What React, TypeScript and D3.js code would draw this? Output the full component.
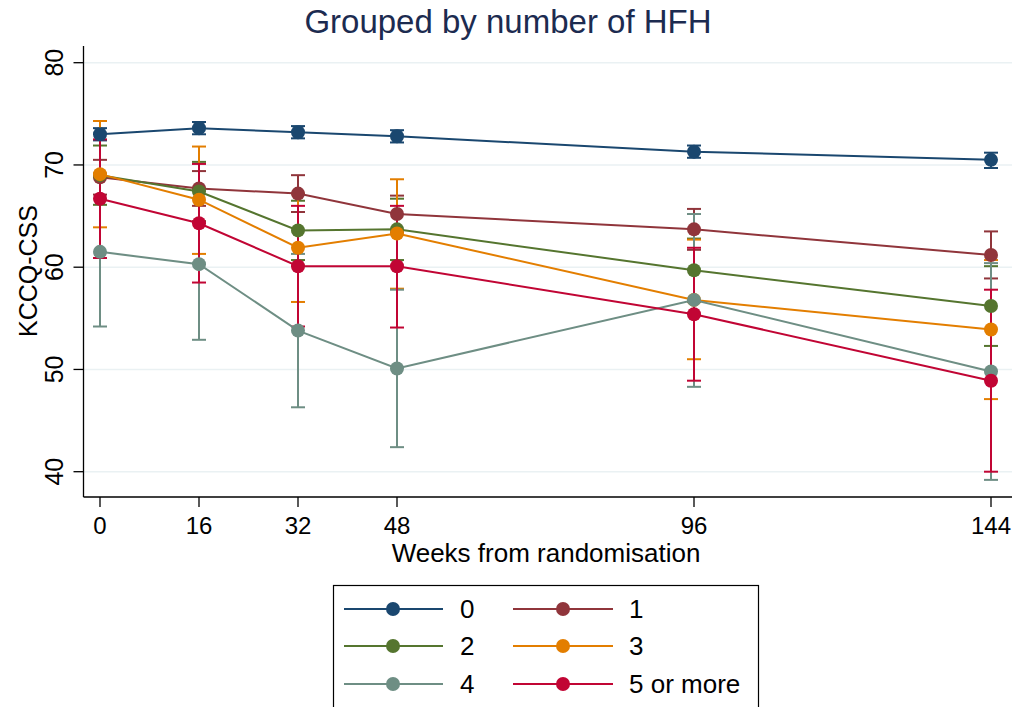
import React from "react";
import * as d3 from "d3";

// Visit weeks on the x axis
const weeks = [0, 16, 32, 48, 96, 144];
const groups = ["0", "1", "2", "3", "4", "5 or more"];
const colors = ["#1a476f", "#90353b", "#55752f", "#e37e00", "#6e8e84", "#c10534"];

// Mean KCCQ-CSS and 95% CI per group
const mean0 = [73.0, 73.6, 73.2, 72.8, 71.3, 70.5];
const lo0 = [72.4, 73.0, 72.6, 72.2, 70.7, 69.7];
const hi0 = [73.6, 74.2, 73.8, 73.4, 71.9, 71.2];

const mean1 = [68.8, 67.7, 67.2, 65.2, 63.7, 61.2];
const lo1 = [67.1, 66.0, 65.4, 63.4, 61.7, 58.9];
const hi1 = [70.5, 69.4, 69.0, 67.0, 65.7, 63.5];

const mean2 = [69.0, 67.4, 63.6, 63.7, 59.7, 56.2];
const lo2 = [66.1, 64.5, 60.7, 60.7, 56.6, 52.3];
const hi2 = [71.9, 70.3, 66.5, 66.7, 62.8, 60.1];

const mean3 = [69.1, 66.6, 61.9, 63.3, 56.8, 53.9];
const lo3 = [63.9, 61.3, 56.6, 57.9, 51.0, 47.1];
const hi3 = [74.3, 71.8, 67.2, 68.6, 62.7, 60.7];

const mean4 = [61.5, 60.3, 53.8, 50.1, 56.8, 49.8];
const lo4 = [54.2, 52.9, 46.3, 42.4, 48.3, 39.2];
const hi4 = [68.8, 67.7, 61.3, 57.8, 65.2, 60.4];

const mean5 = [66.7, 64.3, 60.1, 60.1, 55.4, 48.9];
const lo5 = [60.9, 58.5, 54.2, 54.1, 48.9, 40.0];
const hi5 = [72.5, 70.1, 66.0, 66.0, 61.9, 57.8];

const yTicks = [40, 50, 60, 70, 80];

const series = [
  { mean: mean0, lo: lo0, hi: hi0 },
  { mean: mean1, lo: lo1, hi: hi1 },
  { mean: mean2, lo: lo2, hi: hi2 },
  { mean: mean3, lo: lo3, hi: hi3 },
  { mean: mean4, lo: lo4, hi: hi4 },
  { mean: mean5, lo: lo5, hi: hi5 },
];

const FONT = "'Liberation Sans', Arial, Helvetica, sans-serif";

export default function App() {
  const W = 1020;
  const H = 707;
  const x = d3.scaleLinear().domain([0, 144]).range([100, 991]);
  const y = d3.scaleLinear().domain([40, 80]).range([471.7, 62.7]);
  const axisX = 83.5;
  const axisY = 497;
  const plotRight = 1012;
  const plotTop = 46;
  const capW = 7;
  const r = 7;

  const line = d3
    .line<number>()
    .x((_, i) => x(weeks[i]))
    .y((d) => y(d));

  const legendRows = [
    [0, 1],
    [2, 3],
    [4, 5],
  ];
  const legendRowY = [609, 646, 684];
  const legendCols = [
    { x1: 344, x2: 443, mx: 393, tx: 460 },
    { x1: 513, x2: 613, mx: 563, tx: 629 },
  ];

  return (
    <svg
      width={W}
      height={H}
      style={{ position: "absolute", left: 0, top: 0, background: "#fff" }}
      fontFamily={FONT}
    >
      <rect x={0} y={0} width={W} height={H} fill="#fff" />
      {/* Title */}
      <text x={508} y={33} textAnchor="middle" fontSize={33} fill="#1c2b50">
        Grouped by number of HFH
      </text>

      {/* Gridlines */}
      {yTicks.map((t) => (
        <line
          key={"g" + t}
          x1={axisX}
          x2={plotRight}
          y1={y(t)}
          y2={y(t)}
          stroke="#eaf1f3"
          strokeWidth={1.6}
        />
      ))}

      {/* Axes */}
      <line x1={axisX} x2={axisX} y1={plotTop} y2={axisY} stroke="#000" strokeWidth={1.3} />
      <line x1={axisX} x2={plotRight} y1={axisY} y2={axisY} stroke="#000" strokeWidth={1.3} />
      {yTicks.map((t) => (
        <g key={"yt" + t}>
          <line x1={axisX - 10} x2={axisX} y1={y(t)} y2={y(t)} stroke="#000" strokeWidth={1.3} />
          <text
            transform={`translate(63,${y(t)}) rotate(-90)`}
            textAnchor="middle"
            fontSize={25}
            fill="#000"
          >
            {t}
          </text>
        </g>
      ))}
      {weeks.map((w) => (
        <g key={"xt" + w}>
          <line x1={x(w)} x2={x(w)} y1={axisY} y2={axisY + 10} stroke="#000" strokeWidth={1.3} />
          <text x={x(w)} y={534} textAnchor="middle" fontSize={24} fill="#000">
            {w}
          </text>
        </g>
      ))}
      <text x={546} y={562} textAnchor="middle" fontSize={26} fill="#000">
        Weeks from randomisation
      </text>
      <text
        transform={`translate(37,271) rotate(-90)`}
        textAnchor="middle"
        fontSize={25}
        fill="#000"
      >
        KCCQ-CSS
      </text>

      {/* Confidence interval caps */}
      {series.map((s, gi) => (
        <g key={"ci" + gi} stroke={colors[gi]} strokeWidth={2}>
          {weeks.map((w, i) => (
            <g key={i}>
              <line x1={x(w)} x2={x(w)} y1={y(s.lo[i])} y2={y(s.hi[i])} />
              <line x1={x(w) - capW} x2={x(w) + capW} y1={y(s.lo[i])} y2={y(s.lo[i])} />
              <line x1={x(w) - capW} x2={x(w) + capW} y1={y(s.hi[i])} y2={y(s.hi[i])} />
            </g>
          ))}
        </g>
      ))}

      {/* Connected mean lines */}
      {series.map((s, gi) => (
        <g key={"ln" + gi}>
          <path d={line(s.mean) || ""} fill="none" stroke={colors[gi]} strokeWidth={2} />
          {weeks.map((w, i) => (
            <circle key={i} cx={x(w)} cy={y(s.mean[i])} r={r} fill={colors[gi]} />
          ))}
        </g>
      ))}

      {/* Legend */}
      <rect x={333.5} y={585.5} width={425} height={140} fill="#fff" stroke="#000" strokeWidth={1.2} />
      {legendRows.map((row, ri) =>
        row.map((gi, ci) => {
          const c = legendCols[ci];
          const ly = legendRowY[ri];
          return (
            <g key={"lg" + gi}>
              <line x1={c.x1} x2={c.x2} y1={ly} y2={ly} stroke={colors[gi]} strokeWidth={2} />
              <circle cx={c.mx} cy={ly} r={7} fill={colors[gi]} />
              <text x={c.tx} y={ly + 9} fontSize={26} fill="#000">
                {groups[gi]}
              </text>
            </g>
          );
        })
      )}
    </svg>
  );
}
